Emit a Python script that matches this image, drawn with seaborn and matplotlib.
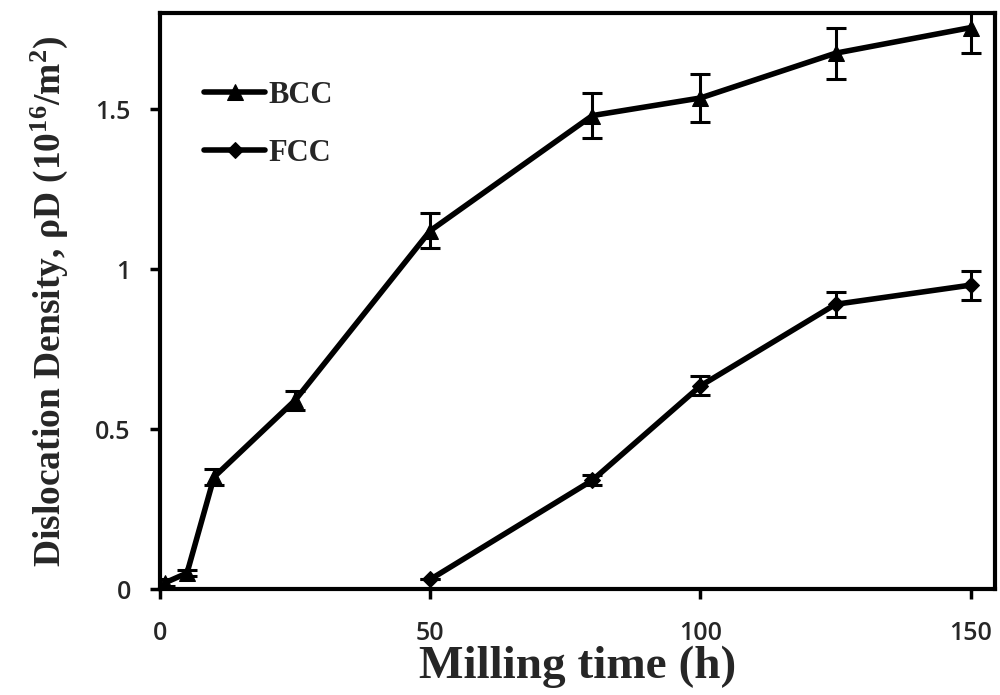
import matplotlib
matplotlib.use("Agg")
import matplotlib.pyplot as plt
import seaborn as sns
import pandas as pd

bcc_time = [1, 5, 10, 25, 50, 80, 100, 125, 150]
bcc_rho = [0.02, 0.05, 0.35, 0.59, 1.12, 1.48, 1.535, 1.675, 1.755]
bcc_err = [0.01, 0.01, 0.025, 0.03, 0.055, 0.07, 0.075, 0.08, 0.08]

fcc_time = [50, 80, 100, 125, 150]
fcc_rho = [0.03, 0.34, 0.635, 0.89, 0.95]
fcc_err = [0.0, 0.015, 0.03, 0.04, 0.045]

x_ticks = [0, 50, 100, 150]
y_ticks = [0, 0.5, 1, 1.5]
y_tick_labels = ["0", "0.5", "1", "1.5"]

sns.set_style("white")
plt.rcParams["mathtext.fontset"] = "custom"
plt.rcParams["mathtext.rm"] = "Liberation Serif:bold"
plt.rcParams["mathtext.it"] = "Liberation Serif:bold"
plt.rcParams["mathtext.bf"] = "Liberation Serif:bold"

fig = plt.figure(figsize=(10, 6.95), dpi=100)
ax = fig.add_axes([0.16, 0.1525, 0.835, 0.8285])

bcc = pd.DataFrame({"t": bcc_time, "rho": bcc_rho})
fcc = pd.DataFrame({"t": fcc_time, "rho": fcc_rho})

sns.lineplot(data=bcc, x="t", y="rho", ax=ax, color="black", lw=4,
             marker="^", markersize=11, markeredgecolor="black", label="BCC")
sns.lineplot(data=fcc, x="t", y="rho", ax=ax, color="black", lw=4,
             marker="D", markersize=8, markeredgecolor="black", label="FCC")
ax.errorbar(bcc_time, bcc_rho, yerr=bcc_err, fmt="none", ecolor="black",
            elinewidth=2.2, capsize=7, capthick=2.2)
ax.errorbar(fcc_time, fcc_rho, yerr=fcc_err, fmt="none", ecolor="black",
            elinewidth=2.2, capsize=7, capthick=2.2)

ax.set_xlim(0, 154.5)
ax.set_ylim(0, 1.8)
ax.set_xticks(x_ticks)
ax.set_yticks(y_ticks)
ax.set_yticklabels(y_tick_labels)
for lab in ax.get_xticklabels() + ax.get_yticklabels():
    lab.set_fontfamily("Open Sans")
    lab.set_fontweight("semibold")
    lab.set_fontsize(18)
ax.tick_params(axis="both", direction="out", length=7, width=2.5, color="black",
               bottom=True, left=True)
ax.tick_params(axis="x", pad=16)
ax.tick_params(axis="y", pad=14)

for sp in ax.spines.values():
    sp.set_linewidth(3)
    sp.set_color("black")

ax.set_xlabel("Milling time (h)", fontfamily="Liberation Serif", fontweight="bold",
              fontsize=34, labelpad=0)
ax.set_ylabel(r"Dislocation Density, ρD (10$^{16}$/m$^{2}$)",
              fontfamily="Liberation Serif", fontweight="bold", fontsize=27, labelpad=18)

leg = ax.legend(loc="upper left", bbox_to_anchor=(0.02, 0.93), frameon=False,
                prop={"family": "Liberation Serif", "weight": "bold", "size": 22},
                handlelength=2.0, handletextpad=0.1, labelspacing=0.95)

fig.savefig("out.png", dpi=100, facecolor="white")
